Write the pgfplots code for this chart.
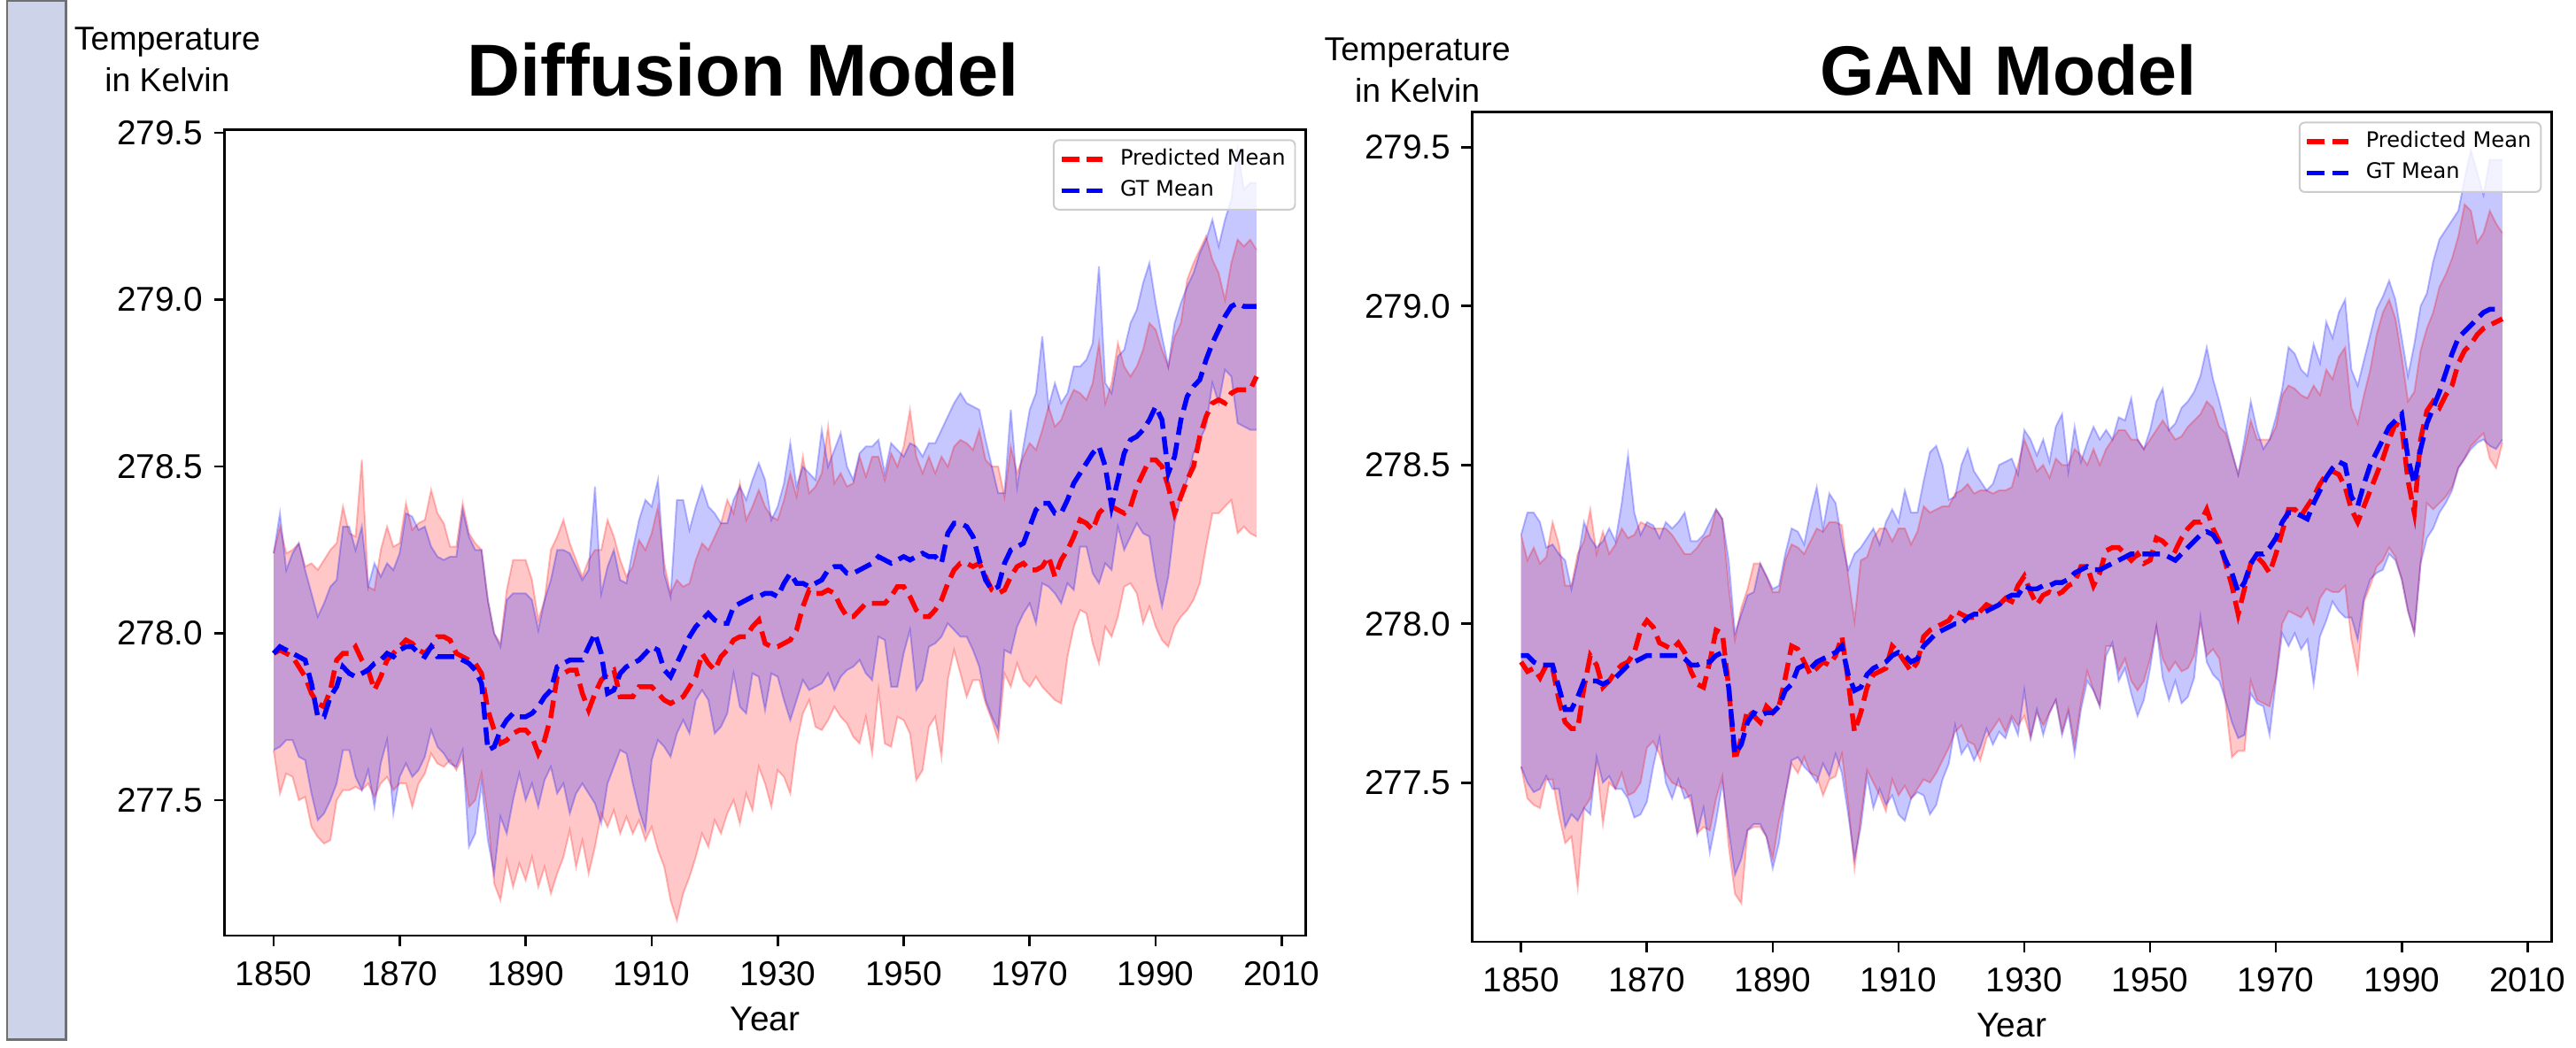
\documentclass[border=0pt]{standalone}
\usepackage{pgfplots}
\pgfplotsset{compat=1.18}
\usepgfplotslibrary{fillbetween}
\usepackage{pgfplotstable}
\usepackage{fontspec}
\setmainfont{Liberation Sans}
\newfontfamily\legfont{DejaVu Sans}

\definecolor{stripfill}{RGB}{205,211,232}
\definecolor{stripedge}{RGB}{112,112,112}
\definecolor{legedge}{RGB}{204,204,204}

% Diffusion model: year, predicted upper/lower/mean, GT upper/lower/mean
\pgfplotstableread{
year pu pl pm gu gl gm
1850 278.24 277.65 277.94 278.24 277.65 277.94
1851 278.32 277.52 277.95 278.36 277.66 277.96
1852 278.24 277.58 277.94 278.19 277.68 277.95
1853 278.25 277.57 277.93 278.24 277.68 277.94
1854 278.27 277.50 277.90 278.27 277.63 277.93
1855 278.20 277.51 277.87 278.19 277.62 277.92
1856 278.21 277.42 277.82 278.12 277.52 277.85
1857 278.19 277.39 277.79 278.05 277.44 277.75
1858 278.22 277.37 277.78 278.09 277.46 277.75
1859 278.25 277.38 277.83 278.14 277.50 277.81
1860 278.27 277.50 277.92 278.16 277.55 277.84
1861 278.38 277.53 277.94 278.32 277.65 277.90
1862 278.30 277.53 277.94 278.32 277.65 277.88
1863 278.29 277.54 277.96 278.25 277.57 277.87
1864 278.52 277.53 277.92 278.32 277.53 277.88
1865 278.14 277.55 277.89 278.14 277.59 277.89
1866 278.13 277.51 277.83 278.21 277.48 277.91
1867 278.25 277.55 277.87 278.17 277.61 277.92
1868 278.32 277.57 277.92 278.21 277.68 277.94
1869 278.26 277.53 277.94 278.19 277.46 277.93
1870 278.27 277.55 277.96 278.24 277.57 277.95
1871 278.39 277.55 277.98 278.36 277.61 277.96
1872 278.31 277.48 277.97 278.35 277.57 277.96
1873 278.33 277.55 277.95 278.31 277.59 277.94
1874 278.34 277.58 277.94 278.32 277.63 277.93
1875 278.43 277.64 277.96 278.26 277.71 277.96
1876 278.36 277.61 277.99 278.23 277.66 277.93
1877 278.33 277.60 277.99 278.22 277.64 277.93
1878 278.26 277.62 277.98 278.23 277.61 277.93
1879 278.26 277.59 277.94 278.23 277.60 277.93
1880 278.39 277.63 277.93 278.37 277.65 277.92
1881 278.30 277.48 277.92 278.29 277.36 277.91
1882 278.27 277.50 277.91 278.25 277.40 277.89
1883 278.25 277.58 277.88 278.25 277.55 277.85
1884 278.10 277.45 277.77 278.10 277.38 277.65
1885 278.00 277.25 277.71 278.00 277.28 277.66
1886 277.97 277.20 277.67 277.96 277.45 277.71
1887 278.13 277.32 277.68 278.10 277.40 277.74
1888 278.22 277.24 277.70 278.12 277.50 277.76
1889 278.22 277.31 277.71 278.12 277.58 277.75
1890 278.22 277.26 277.71 278.12 277.50 277.75
1891 278.16 277.33 277.69 278.10 277.55 277.76
1892 278.04 277.24 277.64 278.01 277.48 277.78
1893 278.10 277.30 277.68 278.10 277.56 277.81
1894 278.25 277.22 277.75 278.16 277.60 277.83
1895 278.29 277.28 277.87 278.25 277.52 277.90
1896 278.34 277.33 277.88 278.25 277.55 277.91
1897 278.27 277.41 277.89 278.24 277.46 277.92
1898 278.22 277.30 277.89 278.20 277.52 277.92
1899 278.17 277.38 277.82 278.16 277.55 277.92
1900 278.22 277.28 277.77 278.19 277.52 277.96
1901 278.25 277.36 277.82 278.44 277.49 278.00
1902 278.25 277.46 277.86 278.12 277.43 277.94
1903 278.34 277.42 277.88 278.20 277.55 277.82
1904 278.29 277.47 277.89 278.25 277.60 277.83
1905 278.22 277.40 277.81 278.16 277.65 277.88
1906 278.17 277.45 277.81 278.15 277.64 277.90
1907 278.20 277.40 277.81 278.25 277.55 277.91
1908 278.28 277.44 277.84 278.34 277.47 277.92
1909 278.25 277.38 277.84 278.40 277.41 277.94
1910 278.30 277.42 277.84 278.38 277.62 277.96
1911 278.38 277.35 277.82 278.46 277.68 277.95
1912 278.21 277.30 277.80 278.18 277.66 277.89
1913 278.12 277.20 277.79 278.11 277.63 277.87
1914 278.16 277.14 277.80 278.40 277.70 277.91
1915 278.14 277.22 277.81 278.40 277.74 277.95
1916 278.15 277.27 277.84 278.31 277.70 277.99
1917 278.22 277.33 277.87 278.38 277.80 278.02
1918 278.27 277.40 277.94 278.44 277.83 278.04
1919 278.25 277.36 277.91 278.38 277.80 278.06
1920 278.29 277.44 277.89 278.36 277.70 278.04
1921 278.33 277.40 277.93 278.33 277.72 278.03
1922 278.40 277.46 277.95 278.33 277.76 278.03
1923 278.36 277.50 277.98 278.40 277.88 278.08
1924 278.45 277.43 277.99 278.44 277.78 278.09
1925 278.34 277.52 277.99 278.40 277.76 278.10
1926 278.38 277.47 278.02 278.46 277.88 278.11
1927 278.43 277.60 278.04 278.51 277.87 278.11
1928 278.38 277.55 277.97 278.46 277.77 278.12
1929 278.35 277.48 277.96 278.34 277.88 278.12
1930 278.34 277.59 277.96 278.38 277.87 278.11
1931 278.40 277.57 277.97 278.45 277.80 278.15
1932 278.48 277.52 277.98 278.57 277.74 278.18
1933 278.41 277.67 278.01 278.44 277.80 278.15
1934 278.53 277.76 278.08 278.50 277.86 278.15
1935 278.42 277.80 278.13 278.48 277.83 278.14
1936 278.44 277.72 278.12 278.46 277.84 278.15
1937 278.48 277.71 278.12 278.61 277.85 278.16
1938 278.62 277.74 278.13 278.50 277.88 278.19
1939 278.45 277.78 278.12 278.55 277.83 278.20
1940 278.48 277.75 278.08 278.60 277.87 278.20
1941 278.44 277.73 278.05 278.50 277.89 278.18
1942 278.45 277.69 278.05 278.46 277.90 278.18
1943 278.53 277.67 278.07 278.54 277.92 278.19
1944 278.47 277.75 278.09 278.56 277.88 278.20
1945 278.53 277.64 278.09 278.56 277.86 278.21
1946 278.53 277.83 278.09 278.58 277.99 278.23
1947 278.46 277.67 278.09 278.48 277.98 278.22
1948 278.54 277.66 278.11 278.57 277.84 278.21
1949 278.50 277.75 278.14 278.55 277.84 278.22
1950 278.56 277.74 278.14 278.53 277.94 278.23
1951 278.67 277.70 278.11 278.57 278.01 278.22
1952 278.53 277.56 278.07 278.56 277.83 278.23
1953 278.48 277.59 278.05 278.53 277.86 278.24
1954 278.53 277.72 278.05 278.57 277.96 278.23
1955 278.48 277.75 278.07 278.57 277.97 278.23
1956 278.53 277.63 278.10 278.61 277.99 278.21
1957 278.50 277.86 278.15 278.65 278.03 278.30
1958 278.56 277.95 278.19 278.69 278.01 278.33
1959 278.58 277.88 278.21 278.72 277.99 278.33
1960 278.57 277.81 278.21 278.69 277.99 278.32
1961 278.55 277.86 278.20 278.68 277.95 278.29
1962 278.61 277.86 278.21 278.67 277.90 278.22
1963 278.52 277.79 278.17 278.58 277.80 278.16
1964 278.50 277.74 278.13 278.50 277.75 278.13
1965 278.50 277.68 278.12 278.42 277.71 278.14
1966 278.41 277.88 278.13 278.42 277.95 278.21
1967 278.56 277.84 278.17 278.67 277.94 278.25
1968 278.48 277.91 278.20 278.44 278.02 278.26
1969 278.53 277.86 278.21 278.56 278.06 278.27
1970 278.57 277.84 278.19 278.67 278.09 278.32
1971 278.55 277.87 278.19 278.72 278.03 278.37
1972 278.61 277.84 278.20 278.89 278.15 278.39
1973 278.68 277.82 278.23 278.68 278.14 278.39
1974 278.62 277.80 278.17 278.75 278.12 278.36
1975 278.64 277.79 278.22 278.69 278.09 278.36
1976 278.69 277.93 278.25 278.72 278.15 278.40
1977 278.73 278.02 278.29 278.80 278.13 278.45
1978 278.72 278.07 278.34 278.80 278.26 278.48
1979 278.70 278.06 278.33 278.82 278.26 278.51
1980 278.75 277.97 278.31 278.87 278.18 278.54
1981 278.87 277.91 278.36 279.10 278.15 278.56
1982 278.69 278.02 278.38 278.75 278.21 278.50
1983 278.75 277.99 278.38 278.72 278.19 278.38
1984 278.87 278.05 278.37 278.83 278.32 278.46
1985 278.80 278.14 278.36 278.85 278.25 278.54
1986 278.77 278.15 278.38 278.93 278.29 278.58
1987 278.80 278.12 278.44 278.97 278.33 278.59
1988 278.85 278.03 278.48 279.05 278.30 278.61
1989 278.93 278.08 278.52 279.11 278.29 278.64
1990 278.91 278.02 278.52 278.99 278.17 278.68
1991 278.85 277.98 278.50 278.89 278.08 278.64
1992 278.80 277.96 278.44 278.80 278.17 278.48
1993 278.89 278.02 278.36 278.93 278.33 278.53
1994 278.93 278.05 278.41 278.99 278.41 278.64
1995 279.06 278.07 278.46 279.04 278.46 278.71
1996 279.11 278.10 278.50 279.08 278.54 278.74
1997 279.15 278.15 278.59 279.14 278.58 278.76
1998 279.19 278.26 278.65 279.18 278.62 278.82
1999 279.12 278.36 278.69 279.24 278.75 278.87
2000 279.08 278.36 278.70 279.16 278.69 278.91
2001 279.00 278.38 278.69 279.24 278.79 278.95
2002 279.11 278.40 278.72 279.30 278.77 278.98
2003 279.18 278.30 278.73 279.45 278.63 278.99
2004 279.16 278.32 278.73 279.33 278.62 278.98
2005 279.18 278.30 278.73 279.35 278.61 278.98
2006 279.15 278.29 278.77 279.35 278.61 278.98
}\difftab

% GAN model: year, predicted upper/lower/mean, GT upper/lower/mean
\pgfplotstableread{
year pu pl pm gu gl gm
1850 278.28 277.55 277.88 278.28 277.55 277.90
1851 278.20 277.45 277.85 278.35 277.50 277.90
1852 278.24 277.43 277.86 278.35 277.47 277.88
1853 278.19 277.42 277.83 278.32 277.48 277.87
1854 278.21 277.51 277.87 278.24 277.52 277.87
1855 278.32 277.51 277.86 278.25 277.48 277.87
1856 278.25 277.40 277.76 278.22 277.48 277.80
1857 278.12 277.31 277.69 278.20 277.36 277.73
1858 278.12 277.33 277.67 278.11 277.40 277.73
1859 278.22 277.17 277.67 278.20 277.38 277.77
1860 278.26 277.42 277.80 278.32 277.42 277.82
1861 278.36 277.45 277.90 278.27 277.40 277.82
1862 278.22 277.56 277.87 278.24 277.58 277.82
1863 278.29 277.37 277.80 278.26 277.50 277.81
1864 278.22 277.50 277.82 278.30 277.52 277.82
1865 278.25 277.48 277.85 278.26 277.48 277.83
1866 278.30 277.53 277.87 278.38 277.48 277.85
1867 278.27 277.46 277.88 278.53 277.45 277.87
1868 278.28 277.47 277.91 278.35 277.39 277.88
1869 278.32 277.50 277.98 278.28 277.40 277.89
1870 278.31 277.61 278.01 278.32 277.44 277.90
1871 278.30 277.63 277.99 278.31 277.55 277.90
1872 278.30 277.59 277.94 278.27 277.64 277.90
1873 278.30 277.53 277.93 278.32 277.50 277.90
1874 278.28 277.50 277.92 278.30 277.45 277.90
1875 278.25 277.49 277.94 278.32 277.51 277.90
1876 278.22 277.48 277.91 278.35 277.45 277.89
1877 278.22 277.44 277.85 278.26 277.46 277.87
1878 278.24 277.34 277.81 278.26 277.34 277.87
1879 278.27 277.36 277.80 278.28 277.42 277.88
1880 278.28 277.35 277.88 278.32 277.28 277.88
1881 278.36 277.45 277.98 278.36 277.38 277.90
1882 278.33 277.52 277.97 278.33 277.50 277.91
1883 278.12 277.30 277.80 278.20 277.35 277.80
1884 277.95 277.15 277.57 277.97 277.21 277.59
1885 278.05 277.12 277.64 278.03 277.26 277.62
1886 278.11 277.35 277.73 278.09 277.35 277.69
1887 278.19 277.36 277.71 278.10 277.37 277.72
1888 278.19 277.36 277.69 278.19 277.37 277.71
1889 278.15 277.33 277.74 278.15 277.33 277.72
1890 278.10 277.26 277.72 278.11 277.23 277.72
1891 278.10 277.38 277.74 278.12 277.31 277.74
1892 278.20 277.46 277.83 278.22 277.46 277.79
1893 278.25 277.56 277.93 278.30 277.57 277.81
1894 278.24 277.53 277.92 278.29 277.58 277.86
1895 278.22 277.58 277.88 278.25 277.55 277.87
1896 278.26 277.53 277.84 278.35 277.53 277.86
1897 278.30 277.52 277.86 278.43 277.50 277.88
1898 278.29 277.46 277.88 278.30 277.56 277.89
1899 278.32 277.51 277.87 278.41 277.52 277.90
1900 278.32 277.52 277.90 278.38 277.59 277.91
1901 278.31 277.59 277.96 278.26 277.53 277.93
1902 278.15 277.43 277.82 278.17 277.40 277.84
1903 278.01 277.23 277.66 278.22 277.26 277.79
1904 278.20 277.39 277.72 278.24 277.36 277.80
1905 278.21 277.54 277.80 278.27 277.52 277.84
1906 278.27 277.50 277.84 278.30 277.42 277.86
1907 278.30 277.46 277.85 278.25 277.48 277.87
1908 278.30 277.41 277.86 278.32 277.43 277.88
1909 278.26 277.51 277.93 278.36 277.46 277.90
1910 278.30 277.46 277.91 278.32 277.40 277.91
1911 278.30 277.49 277.88 278.42 277.38 277.90
1912 278.25 277.45 277.85 278.35 277.45 277.88
1913 278.29 277.48 277.88 278.35 277.47 277.89
1914 278.37 277.51 277.96 278.45 277.46 277.93
1915 278.35 277.50 277.98 278.54 277.40 277.95
1916 278.36 277.53 277.99 278.56 277.43 277.97
1917 278.37 277.57 278.00 278.50 277.51 277.98
1918 278.37 277.61 278.01 278.39 277.56 277.99
1919 278.41 277.66 278.04 278.40 277.68 278.00
1920 278.42 277.68 278.03 278.50 277.59 278.00
1921 278.44 277.63 278.02 278.55 277.62 278.02
1922 278.41 277.62 278.02 278.48 277.57 278.03
1923 278.42 277.57 278.04 278.45 277.61 278.03
1924 278.42 277.64 278.06 278.42 277.67 278.04
1925 278.41 277.67 278.05 278.44 277.62 278.05
1926 278.42 277.70 278.06 278.50 277.66 278.06
1927 278.42 277.66 278.08 278.51 277.64 278.08
1928 278.43 277.71 278.07 278.52 277.70 278.09
1929 278.50 277.68 278.12 278.47 277.65 278.09
1930 278.58 277.71 278.15 278.61 277.79 278.12
1931 278.53 277.64 278.10 278.58 277.64 278.11
1932 278.48 277.72 278.06 278.53 277.73 278.11
1933 278.50 277.68 278.09 278.58 277.65 278.12
1934 278.46 277.72 278.10 278.51 277.72 278.12
1935 278.52 277.76 278.09 278.62 277.76 278.13
1936 278.50 277.66 278.10 278.66 277.65 278.13
1937 278.50 277.73 278.12 278.48 277.72 278.14
1938 278.55 277.62 278.13 278.62 277.59 278.16
1939 278.53 277.75 278.18 278.51 277.73 278.17
1940 278.50 277.85 278.18 278.57 277.82 278.18
1941 278.55 277.79 278.12 278.62 277.79 278.17
1942 278.50 277.74 278.16 278.58 277.74 278.17
1943 278.55 277.93 278.23 278.61 277.90 278.18
1944 278.58 277.93 278.24 278.58 277.94 278.19
1945 278.61 277.85 278.24 278.65 277.82 278.20
1946 278.61 277.89 278.22 278.64 277.86 278.21
1947 278.58 277.82 278.20 278.71 277.78 278.22
1948 278.58 277.79 278.22 278.58 277.71 278.22
1949 278.55 277.82 278.19 278.55 277.76 278.22
1950 278.58 277.89 278.20 278.61 277.86 278.22
1951 278.61 277.99 278.27 278.70 277.99 278.22
1952 278.64 277.89 278.26 278.74 277.83 278.22
1953 278.61 277.85 278.24 278.61 277.76 278.21
1954 278.58 277.88 278.23 278.63 277.82 278.20
1955 278.59 277.85 278.27 278.68 277.75 278.22
1956 278.62 277.86 278.30 278.70 277.77 278.24
1957 278.64 277.90 278.32 278.73 277.83 278.26
1958 278.66 278.00 278.32 278.78 278.02 278.28
1959 278.70 277.90 278.36 278.87 277.88 278.29
1960 278.68 277.92 278.30 278.77 277.84 278.28
1961 278.62 277.89 278.26 278.70 277.82 278.25
1962 278.60 277.75 278.19 278.62 277.76 278.20
1963 278.54 277.58 278.12 278.54 277.69 278.16
1964 278.47 277.60 278.03 278.47 277.64 278.10
1965 278.55 277.60 278.11 278.58 277.65 278.13
1966 278.64 277.82 278.19 278.70 277.78 278.19
1967 278.58 277.76 278.21 278.61 277.75 278.22
1968 278.58 277.75 278.19 278.55 277.74 278.22
1969 278.58 277.74 278.16 278.58 277.65 278.24
1970 278.62 277.83 278.22 278.65 277.82 278.27
1971 278.72 278.00 278.29 278.74 277.97 278.32
1972 278.75 278.04 278.36 278.87 277.93 278.35
1973 278.74 278.03 278.36 278.85 277.97 278.35
1974 278.72 278.02 278.34 278.80 277.92 278.34
1975 278.71 278.05 278.37 278.78 277.95 278.33
1976 278.75 278.00 278.40 278.88 277.81 278.38
1977 278.72 278.08 278.44 278.82 277.96 278.42
1978 278.80 278.11 278.47 278.95 278.01 278.46
1979 278.77 278.10 278.48 278.90 278.07 278.49
1980 278.84 278.10 278.47 278.98 278.04 278.51
1981 278.87 278.12 278.43 279.02 278.02 278.50
1982 278.68 277.95 278.36 278.80 278.02 278.40
1983 278.63 277.85 278.32 278.75 277.95 278.37
1984 278.72 278.07 278.37 278.83 278.08 278.44
1985 278.80 278.12 278.42 278.91 278.14 278.50
1986 278.91 278.18 278.47 278.99 278.16 278.54
1987 278.98 278.20 278.52 279.03 278.17 278.58
1988 279.02 278.24 278.58 279.08 278.22 278.62
1989 278.96 278.21 278.63 279.02 278.20 278.64
1990 278.84 278.14 278.62 278.90 278.14 278.66
1991 278.70 278.04 278.45 278.78 278.04 278.52
1992 278.73 277.97 278.35 278.88 277.97 278.44
1993 278.86 278.19 278.58 279.00 278.19 278.55
1994 278.93 278.38 278.67 279.04 278.27 278.63
1995 278.98 278.36 278.70 279.14 278.30 278.68
1996 279.06 278.38 278.68 279.21 278.35 278.73
1997 279.10 278.40 278.72 279.24 278.38 278.79
1998 279.15 278.43 278.75 279.27 278.42 278.85
1999 279.22 278.49 278.82 279.30 278.49 278.90
2000 279.32 278.52 278.86 279.40 278.52 278.92
2001 279.30 278.56 278.88 279.49 278.55 278.94
2002 279.20 278.58 278.91 279.42 278.57 278.96
2003 279.23 278.60 278.93 279.35 278.58 278.98
2004 279.30 278.52 278.94 279.46 278.56 278.99
2005 279.26 278.49 278.95 279.46 278.55 278.99
2006 279.23 278.57 278.96 279.46 278.58 278.99
}\gantab

\pgfplotsset{
  panel/.style={
    scale only axis,
    xmin=1842.2, xmax=2013.8,
    xtick={1850,1870,1890,1910,1930,1950,1970,1990,2010},
    ytick={277.5,278.0,278.5,279.0,279.5},
    tick pos=left,
    tick align=outside,
    major tick length=1.2mm,
    axis line style={line width=0.27mm},
    every tick/.style={black, line width=0.27mm},
    tick label style={font=\fontsize{11.1}{13}\selectfont},
    /pgf/number format/assume math mode=true,
    x tick label style={/pgf/number format/1000 sep={}, yshift=-0.5mm},
    y tick label style={/pgf/number format/.cd, fixed, fixed zerofill, precision=1},
    xlabel={Year},
    xlabel style={font=\fontsize{11.1}{13}\selectfont},
    legend style={at={(1,1)}, anchor=north east, xshift=-1.1mm, yshift=-1.1mm,
      draw=legedge, line width=0.2mm, rounded corners=0.6mm,
      fill=white, fill opacity=0.8, text opacity=1, draw opacity=1,
      font=\legfont\fontsize{6.9}{8}\selectfont,
      inner xsep=0.6mm, inner ysep=0.5mm, row sep=0.2mm,
      nodes={inner sep=0.5mm},
      /tikz/every odd column/.append style={column sep=1.2mm}},
    legend cell align=left,
    legend image code/.code={\draw[#1] (0mm,0mm) -- (4.7mm,0mm);},
  },
  bandred/.style={red, opacity=0.25, line width=0.2mm, forget plot},
  bandblue/.style={blue, opacity=0.25, line width=0.2mm, forget plot},
  predline/.style={red, line width=0.55mm, dash pattern=on 2mm off 0.9mm},
  gtline/.style={blue, line width=0.55mm, dash pattern=on 2mm off 0.9mm},
}

\begin{document}
\begin{tikzpicture}
\path (0,0) rectangle (290.9mm,118mm);
\filldraw[fill=stripfill, draw=stripedge, line width=0.25mm] (0.8mm,0mm) rectangle (7.5mm,118mm);

\begin{axis}[panel,
  at={(25.5mm,11.8mm)}, anchor=south west,
  width=122.8mm, height=91.6mm,
  ymin=277.094, ymax=279.51,
  title={Diffusion Model},
  every axis title/.style={at={(axis description cs:0.4796,1.0742)}, anchor=center,
    font=\fontsize{23.8}{28}\selectfont\bfseries},
  ylabel={Temperature\\in Kelvin},
  every axis y label/.style={at={(axis description cs:-0.0529,1.0868)}, anchor=center,
    align=center, font=\fontsize{10.7}{13.4}\selectfont},
]
\addplot[bandred, name path=dpu] table[x=year,y=pu]{\difftab};
\addplot[bandred, name path=dpl] table[x=year,y=pl]{\difftab};
\addplot[fill=red, fill opacity=0.22, draw=none, forget plot] fill between[of=dpu and dpl];
\addplot[bandblue, name path=dgu] table[x=year,y=gu]{\difftab};
\addplot[bandblue, name path=dgl] table[x=year,y=gl]{\difftab};
\addplot[fill=blue, fill opacity=0.22, draw=none, forget plot] fill between[of=dgu and dgl];
\addplot[predline] table[x=year,y=pm]{\difftab};
\addlegendentry{Predicted Mean}
\addplot[gtline] table[x=year,y=gm]{\difftab};
\addlegendentry{GT Mean}
\end{axis}

\begin{axis}[panel,
  at={(167.2mm,11.1mm)}, anchor=south west,
  width=122.6mm, height=94.3mm,
  ymin=276.999, ymax=279.611,
  title={GAN Model},
  every axis title/.style={at={(axis description cs:0.497,1.050)}, anchor=center,
    font=\fontsize{22.6}{28}\selectfont\bfseries},
  ylabel={Temperature\\in Kelvin},
  every axis y label/.style={at={(axis description cs:-0.0506,1.0504)}, anchor=center,
    align=center, font=\fontsize{10.7}{13.4}\selectfont},
]
\addplot[bandred, name path=gpu] table[x=year,y=pu]{\gantab};
\addplot[bandred, name path=gpl] table[x=year,y=pl]{\gantab};
\addplot[fill=red, fill opacity=0.22, draw=none, forget plot] fill between[of=gpu and gpl];
\addplot[bandblue, name path=ggu] table[x=year,y=gu]{\gantab};
\addplot[bandblue, name path=ggl] table[x=year,y=gl]{\gantab};
\addplot[fill=blue, fill opacity=0.22, draw=none, forget plot] fill between[of=ggu and ggl];
\addplot[predline] table[x=year,y=pm]{\gantab};
\addlegendentry{Predicted Mean}
\addplot[gtline] table[x=year,y=gm]{\gantab};
\addlegendentry{GT Mean}
\end{axis}
\end{tikzpicture}
\end{document}
